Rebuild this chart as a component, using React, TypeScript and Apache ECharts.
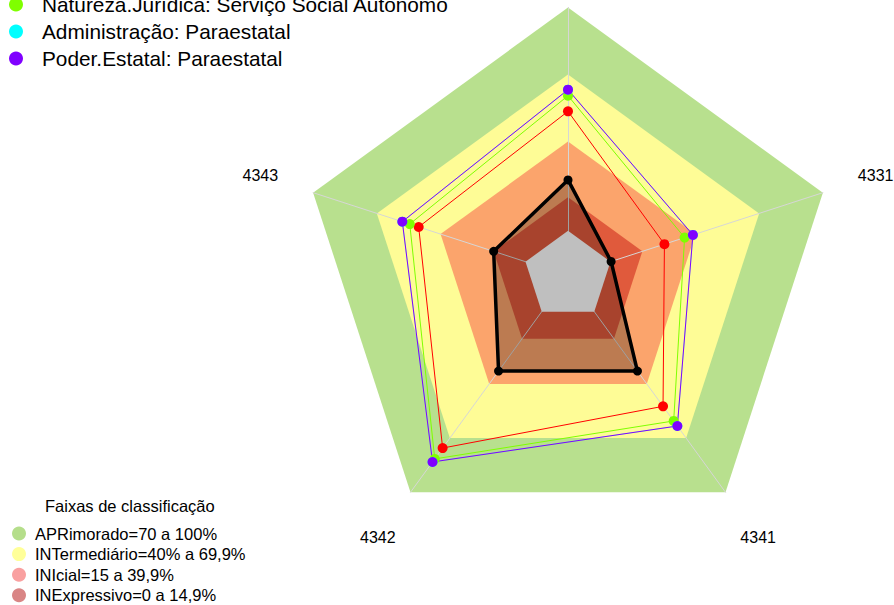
import React, { useEffect, useRef } from 'react';
import * as echarts from 'echarts';

const FONT = "'Liberation Sans', Arial, sans-serif";

// Radar axes (counter-clockwise from the top). The top axis label lies outside the picture.
const indicatorNames = ['', '4343', '4342', '4341', '4331'];
const axisMin = -20;
const axisMax = 100;

// Data series (values per axis, same order as indicatorNames)
const blackName = 'Série A';
const blackValues = [22.8, 15.0, 32.9, 32.9, 0.3];
const redName = 'Série B';
const redValues = [53.5, 50.3, 75.5, 52.4, 25.4];
const greenName = 'Natureza.Jurídica: Serviço Social Autônomo';
const greenValues = [60.5, 54.5, 81.5, 60.5, 34.9];
const cyanName = 'Administração: Paraestatal';
const cyanValues = [63.2, 58.0, 83.2, 63.3, 38.8];
const purpleName = 'Poder.Estatal: Paraestatal';
const purpleValues = [63.2, 58.0, 83.2, 63.3, 38.8];

// Classification bands
const bandNames = [
  'APRimorado=70 a 100%',
  'INTermediário=40% a 69,9%',
  'INIcial=15 a 39,9%',
  'INExpressivo=0 a 14,9%',
];
const bandRings = [
  [100, 100, 100, 100, 100],
  [70, 70, 70, 70, 70],
  [40, 40, 40, 40, 40],
  [15, 15, 15, 15, 15],
];
const baseRing = [0, 0, 0, 0, 0];
const bandColors = ['#b8e08e', '#fefc96', '#fba46c', '#e05a3c'];
const bandLegendColors = ['#b5de8b', '#ffff99', '#f9a0a0', '#d98585'];

export default function App() {
  const ref = useRef<HTMLDivElement>(null);

  useEffect(() => {
    if (!ref.current) return;
    const chart = echarts.init(ref.current, undefined, { renderer: 'svg' });

    const bandSeries = bandNames.map((name, i) => ({
      type: 'radar',
      name,
      z: 1,
      silent: true,
      symbol: 'none',
      lineStyle: { width: 0, opacity: 0 },
      itemStyle: { color: bandColors[i] },
      areaStyle: { color: bandColors[i], opacity: 1 },
      data: [{ value: bandRings[i], name }],
    }));

    const dataSeries = (name: string, values: number[], color: string, width: number, size: number, area?: string) => ({
      type: 'radar',
      name,
      z: 4,
      silent: true,
      symbol: 'circle',
      symbolSize: size,
      lineStyle: { color, width },
      itemStyle: { color },
      areaStyle: area ? { color: area, opacity: 1 } : undefined,
      data: [{ value: values, name }],
    });

    chart.setOption({
      animation: false,
      title: {
        text: 'Faixas de classificação',
        left: 45,
        top: 497,
        padding: 0,
        textStyle: { fontSize: 16.5, fontWeight: 'normal', fontFamily: FONT, color: '#000' },
      },
      legend: [
        {
          orient: 'vertical',
          left: 9,
          top: -6,
          padding: 0,
          itemWidth: 14,
          itemHeight: 14,
          itemGap: 6,
          icon: 'circle',
          selectedMode: false,
          data: [greenName, cyanName, purpleName],
          textStyle: { fontSize: 20.8, fontFamily: FONT, color: '#000', lineHeight: 20, padding: [0, 0, 0, 14] },
        },
        {
          orient: 'vertical',
          left: 12,
          top: 525,
          padding: 0,
          itemWidth: 14,
          itemHeight: 14,
          itemGap: 3.6,
          icon: 'circle',
          selectedMode: false,
          data: bandNames.map((name, i) => ({ name, itemStyle: { color: bandLegendColors[i] } })),
          textStyle: { fontSize: 16.5, fontFamily: FONT, color: '#000', lineHeight: 15, padding: [0, 0, 0, 4] },
        },
      ],
      radar: {
        z: 2,
        center: [568, 275.5],
        radius: 268,
        startAngle: 90,
        shape: 'polygon',
        splitNumber: 6,
        nameGap: 55.5,
        indicator: indicatorNames.map((name) => ({ name, min: axisMin, max: axisMax })),
        axisName: {
          color: '#000',
          fontSize: 16,
          fontFamily: FONT,
          align: 'center',
          verticalAlign: 'middle',
        },
        axisLine: { lineStyle: { color: '#d6d6d6', width: 1 } },
        axisTick: { show: false },
        axisLabel: { show: false },
        splitLine: { show: false },
        splitArea: { show: false },
      },
      series: [
        ...bandSeries,
        {
          type: 'radar',
          name: 'base',
          z: 3,
          silent: true,
          symbol: 'none',
          lineStyle: { width: 0, opacity: 0 },
          itemStyle: { color: '#ffffff' },
          areaStyle: { color: '#ffffff', opacity: 1 },
          data: [{ value: baseRing, name: 'base' }],
        },
        dataSeries(blackName, blackValues, '#000000', 3.5, 9, 'rgba(0,0,0,0.25)'),
        dataSeries(redName, redValues, '#ff0000', 1, 10),
        dataSeries(greenName, greenValues, '#7fff00', 1, 10),
        dataSeries(cyanName, cyanValues, '#00ffff', 0.4, 10),
        dataSeries(purpleName, purpleValues, '#8000ff', 1, 10),
      ],
    });

    return () => chart.dispose();
  }, []);

  return (
    <div
      ref={ref}
      style={{ position: 'fixed', left: 0, top: 0, width: 894, height: 605, background: '#fff' }}
    />
  );
}
